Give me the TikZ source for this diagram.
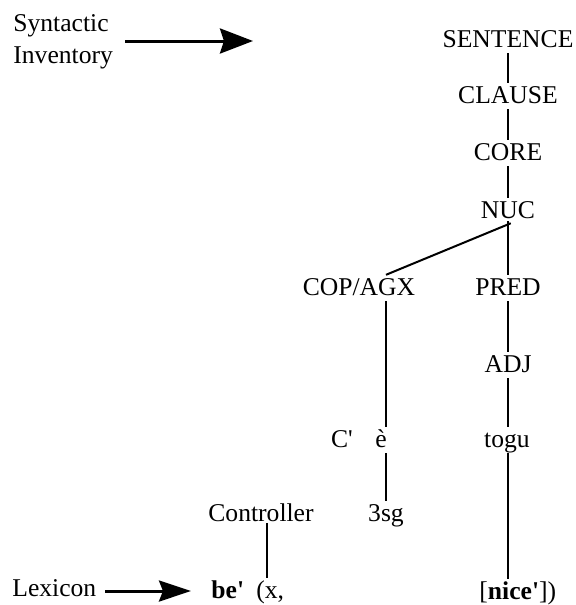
\documentclass[tikz,border=0pt]{standalone}
\usepackage{fontspec}
\setmainfont{Liberation Serif}
\usetikzlibrary{arrows.meta}
\newcommand{\ap}{\textquotesingle}
\begin{document}
\begin{tikzpicture}[x=0.5pt,y=-0.5pt,
  tn/.style={inner xsep=1pt,inner ysep=3pt,text height=0.69em,text depth=0pt,anchor=base,font=\fontsize{12.8}{15}\selectfont},
  lbl/.style={tn,anchor=base west},
  edge/.style={draw,line width=1pt},
  bigarrow/.style={line width=1.5pt,-{Stealth[length=16.5pt,width=12.5pt,inset=2pt]}},
  smallarrow/.style={line width=1.5pt,-{Stealth[length=16pt,width=10.5pt,inset=2pt]}}]
\useasboundingbox (0,0) rectangle (575,605);
% labels on the left
\node[lbl] (syn) at (11,32) {Syntactic};
\node[lbl] (inv) at (11,63) {Inventory};
\coordinate (a1s) at (125,41);
\coordinate (a1e) at (253,41);
\draw[bigarrow] (a1s) -- (a1e);
\node[lbl] (lex) at (10,596) {Lexicon};
\coordinate (a2s) at (105,591);
\coordinate (a2e) at (191,591);
\draw[smallarrow] (a2s) -- (a2e);
% tree
\node[tn] (sent) at (508,47) {SENTENCE};
\node[tn] (clause) at (508,103) {CLAUSE};
\node[tn] (core) at (508,160) {CORE};
\node[tn] (nuc) at (508,218) {NUC};
\node[tn] (cop) at (359,295) {COP/AGX};
\node[tn] (pred) at (508,295) {PRED};
\node[tn] (adj) at (508,372) {ADJ};
\node[tn] (cp) at (342,447) {C\ap};
\node[tn] (e) at (381,447) {è};
\node[tn] (togu) at (507,447) {togu};
\node[tn] (ctrl) at (261,521) {Controller};
\node[tn] (sg) at (386,521) {3sg};
\node[lbl] (be) at (209,598) {\textbf{be\ap}};
\node[lbl] (x) at (254,598) {(x,};
\node[lbl] (nice) at (477,599) {[\textbf{nice\ap}])};
% connectors
\draw[edge] (sent) -- (clause);
\draw[edge] (clause) -- (core);
\draw[edge] (core) -- (nuc);
\draw[edge,shorten <=-1.5pt] (nuc.south) -- (pred.north);
\draw[edge,shorten <=-1.5pt] (nuc.south) -- (cop.north -| sg);
\draw[edge] (cop.south -| sg) -- (e.north -| sg);
\draw[edge] (pred) -- (adj);
\draw[edge] (adj.south) -- (togu.north -| adj);
\draw[edge] (e.south -| sg) -- (sg.north);
\draw[edge] (togu.south -| adj) -- (nice.north -| adj);
\draw[edge,shorten <=-2pt] (ctrl.south -| 267,0) -- (x.north -| 267,0);
\end{tikzpicture}
\end{document}
